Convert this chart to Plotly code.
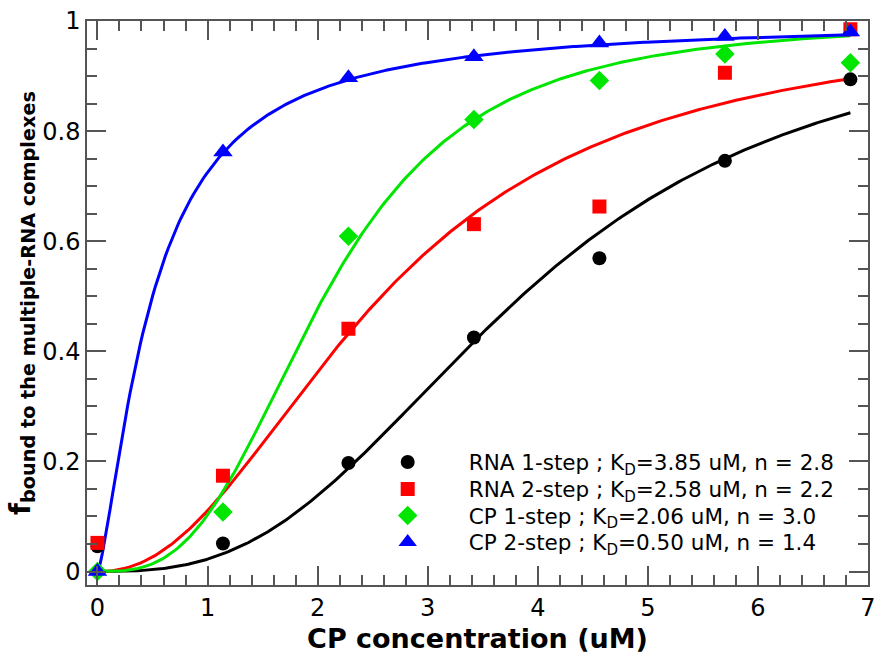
import numpy as np
import plotly.graph_objects as go

# Data
conc = [0.0, 1.14, 2.28, 3.42, 4.56, 5.70, 6.84]
rna1 = [0.046, 0.051, 0.197, 0.425, 0.569, 0.746, 0.894]
rna2 = [0.052, 0.174, 0.441, 0.631, 0.663, 0.906, 0.985]
cp1 = [0.0, 0.108, 0.609, 0.821, 0.892, 0.940, 0.924]
cp2 = [0.0, 0.762, 0.897, 0.935, 0.960, 0.972, 0.980]

series_names = [
    "RNA 1-step ; K<sub>D</sub>=3.85 uM, n = 2.8",
    "RNA 2-step ; K<sub>D</sub>=2.58 uM, n = 2.2",
    "CP 1-step ; K<sub>D</sub>=2.06 uM, n = 3.0",
    "CP 2-step ; K<sub>D</sub>=0.50 uM, n = 1.4",
]
kd = [3.85, 2.58, 2.06, 0.50]
hill_n = [2.8, 2.2, 3.0, 1.4]
colors = ["#000000", "#ff0000", "#00e600", "#0000ff"]
symbols = ["circle", "square", "diamond", "triangle-up"]
marker_sizes = [14, 14, 15, 17]
values = [rna1, rna2, cp1, cp2]

FONT = "DejaVu Sans"
fig = go.Figure()

# Hill fit curves from the legend parameters
xf = np.linspace(0, max(conc), 300)
for k, n, c in zip(kd, hill_n, colors):
    yf = xf**n / (k**n + xf**n)
    fig.add_trace(go.Scatter(x=xf, y=yf, mode="lines", line=dict(color=c, width=3),
                             showlegend=False, hoverinfo="skip"))

legend_ids = ["legend", "legend2", "legend3", "legend4"]
for name, v, c, s, ms, lid in zip(series_names, values, colors, symbols, marker_sizes, legend_ids):
    fig.add_trace(go.Scatter(x=conc, y=v, mode="markers", name="      " + name, legend=lid,
                             marker=dict(color=c, symbol=s, size=ms, line=dict(width=0))))

axis_common = dict(
    showgrid=False, zeroline=False, showline=True, linecolor="#555555", linewidth=1.5,
    mirror="allticks", ticks="inside", tickcolor="#555555", tickwidth=1.5, ticklen=19,
    tickfont=dict(family=FONT, size=24, color="black"), automargin=False,
    ticklabeloverflow="allow",
)

fig.update_xaxes(
    range=[-0.095, 7], tick0=0, dtick=1,
    minor=dict(dtick=0.2, ticks="inside", ticklen=10, tickcolor="#555555", tickwidth=1.5),
    title=dict(text="<b>CP concentration (uM)</b>", font=dict(family=FONT, size=27, color="black"), standoff=12),
    **axis_common,
)
fig.update_yaxes(
    range=[-0.0245, 1], tick0=0, dtick=0.2, tickformat="~g",
    minor=dict(dtick=0.05, ticks="inside", ticklen=10, tickcolor="#555555", tickwidth=1.5),
    title=dict(text="<b>f<sub>bound to the multiple-RNA complexes</sub></b>",
               font=dict(family=FONT, size=27.5, color="black"), standoff=4),
    **axis_common,
)

legend_style = dict(xanchor="left", yanchor="middle", bgcolor="rgba(0,0,0,0)",
                    font=dict(family=FONT, size=21.5, color="black"), itemsizing="trace")
row_y = [0.2181, 0.1702, 0.1232, 0.0762]
fig.update_layout(
    width=875, height=654,
    margin=dict(l=87, r=7, t=21, b=69),
    plot_bgcolor="white", paper_bgcolor="white",
    legend=dict(x=0.385, y=row_y[0], **legend_style),
    legend2=dict(x=0.385, y=row_y[1], **legend_style),
    legend3=dict(x=0.385, y=row_y[2], **legend_style),
    legend4=dict(x=0.385, y=row_y[3], **legend_style),
    font=dict(family=FONT),
)

fig.write_html("out.html")
